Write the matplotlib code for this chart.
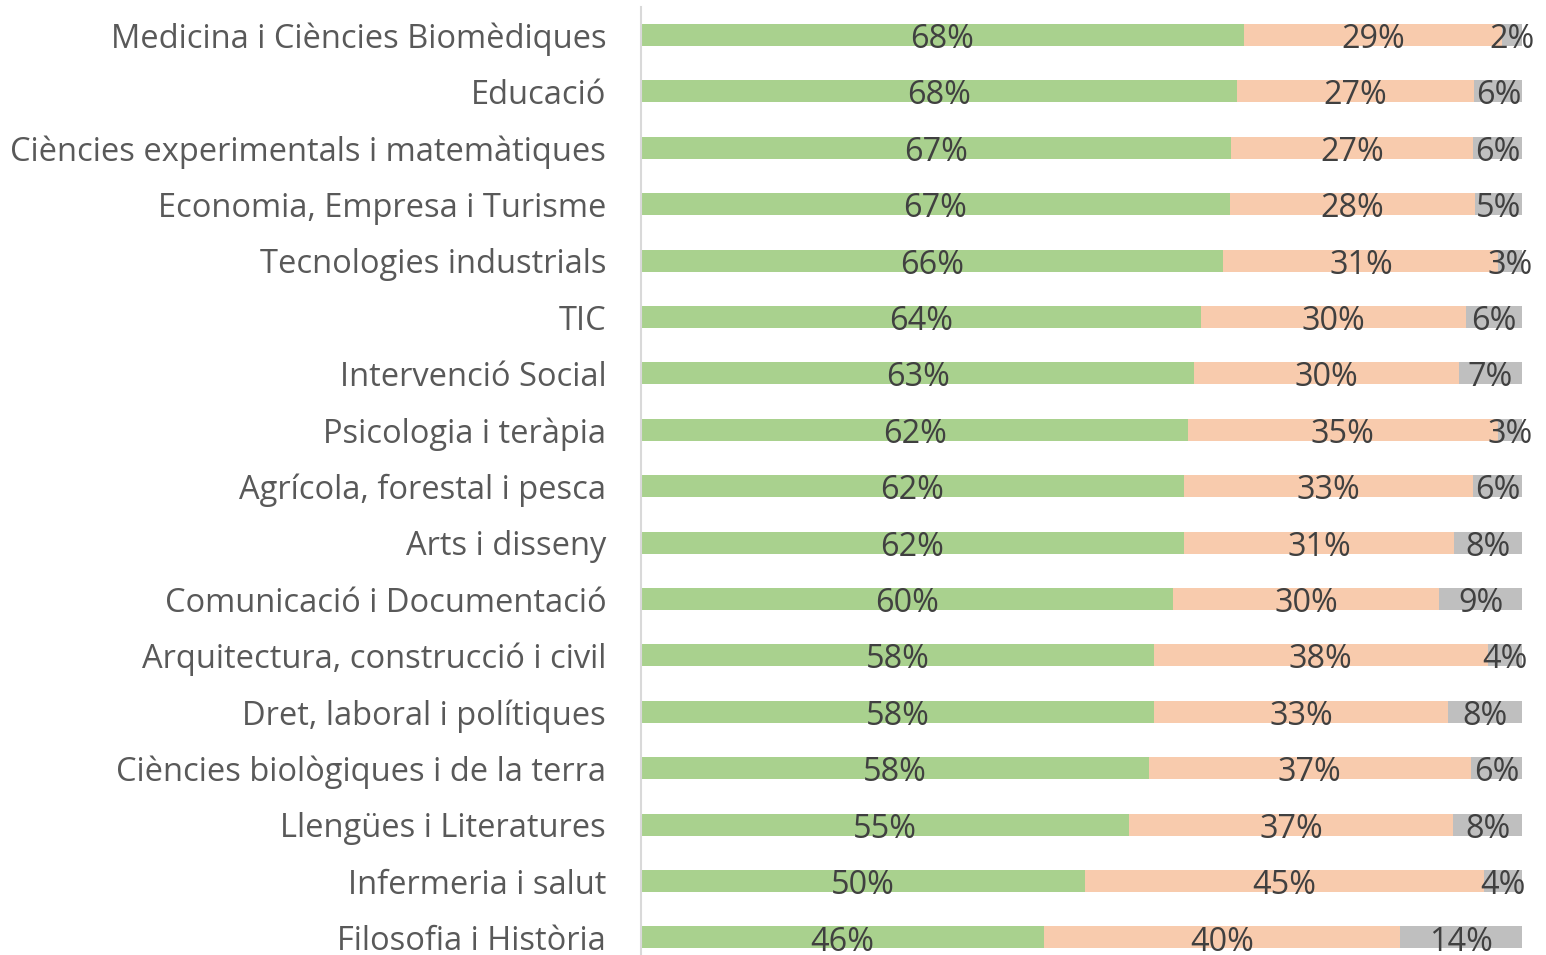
import numpy as np
from matplotlib import pyplot as plt

categories = [
    "Medicina i Ciències Biomèdiques",
    "Educació",
    "Ciències experimentals i matemàtiques",
    "Economia, Empresa i Turisme",
    "Tecnologies industrials",
    "TIC",
    "Intervenció Social",
    "Psicologia i teràpia",
    "Agrícola, forestal i pesca",
    "Arts i disseny",
    "Comunicació i Documentació",
    "Arquitectura, construcció i civil",
    "Dret, laboral i polítiques",
    "Ciències biològiques i de la terra",
    "Llengües i Literatures",
    "Infermeria i salut",
    "Filosofia i Història",
]
green_vals = [68.4, 67.6, 67.0, 66.8, 66.1, 63.6, 62.8, 62.1, 61.6, 61.6, 60.4,
              58.2, 58.2, 57.6, 55.4, 50.4, 45.7]
peach_vals = [29.3, 26.9, 27.4, 27.8, 31.2, 30.0, 30.0, 35.1, 32.8, 30.7, 30.2,
              37.9, 33.4, 36.6, 36.8, 45.3, 40.4]
gray_vals = [2.3, 5.6, 5.6, 5.4, 2.7, 6.4, 7.2, 2.8, 5.6, 7.7, 9.4,
             3.9, 8.4, 5.8, 7.8, 4.3, 13.9]

colors = ["#A9D18E", "#F8CBAD", "#BFBFBF"]
FONT = ["Open Sans", "DejaVu Sans"]


def main():
    fig = plt.figure(figsize=(15.46, 9.55), dpi=100)
    ax = fig.add_axes([0.4146, -0.0112, 0.5700, 1.0041])

    y = np.arange(len(categories))
    series = [np.array(green_vals), np.array(peach_vals), np.array(gray_vals)]
    left = np.zeros(len(categories))
    for vals, col in zip(series, colors):
        ax.barh(y, vals, left=left, height=0.39, color=col, linewidth=0)
        for yi, l, v in zip(y, left, vals):
            ax.text(l + v / 2, yi + 0.08, f"{v:.0f}%", ha="center", va="center",
                    fontsize=23.3, color="#404040", family=FONT)
        left = left + vals

    ax.set_xlim(0, 100)
    ax.set_ylim(len(categories) - 0.5, -0.5)
    ax.set_yticks(y)
    ax.set_yticklabels(categories, fontsize=23.5, color="#595959", family=FONT)
    ax.tick_params(axis="y", length=0, pad=25)
    ax.set_xticks([])
    for s in ["top", "right", "bottom"]:
        ax.spines[s].set_visible(False)
    ax.spines["left"].set_color("#D9D9D9")
    ax.spines["left"].set_linewidth(1.5)

    fig.savefig("out.png", dpi=100)


if __name__ == "__main__":
    main()
